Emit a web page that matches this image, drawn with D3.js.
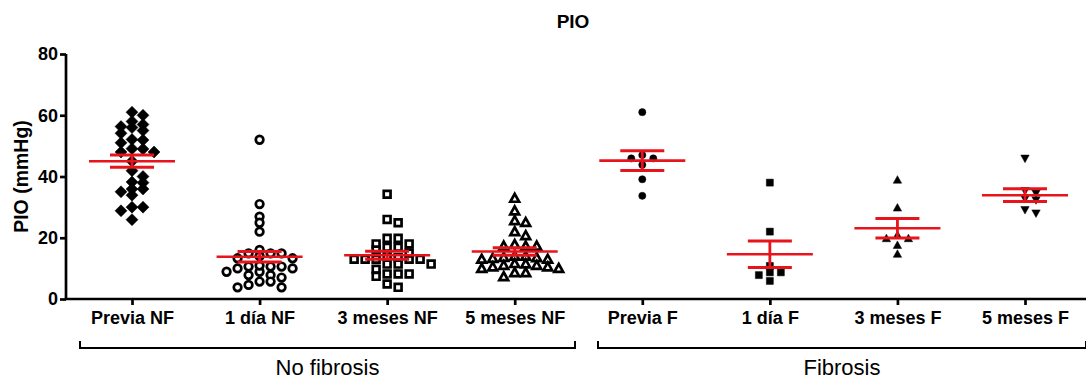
<!DOCTYPE html>
<html>
<head>
<meta charset="utf-8">
<script src="https://cdn.jsdelivr.net/npm/d3@7"></script>
<style>
  body { margin: 0; background: #fff; }
  svg { display: block; font-family: "Liberation Sans", Arial, sans-serif; }
</style>
</head>
<body>
<div id="chart"></div>
<script>
// categories and groups
const categories = ["Previa NF", "1 día NF", "3 meses NF", "5 meses NF", "Previa F", "1 día F", "3 meses F", "5 meses F"];
const groupNames = ["No fibrosis", "Fibrosis"];
const yTicks = [0, 20, 40, 60, 80];

// individual PIO values (mmHg)
const previaNF = [58, 60, 61, 56.3, 56, 57, 54.1, 55, 51.9, 52.1, 51, 49.1, 48, 48, 49, 45, 41.9, 38.2, 38, 40, 35.9, 33.9, 35, 35.9, 30, 30, 28.8, 25.9];
const dia1NF = [52, 31, 26.9, 24.9, 22, 16, 14.9, 14, 13.3, 13.3, 14.9, 14.9, 10, 8.9, 10.6, 10.6, 10.6, 10, 10.9, 7.8, 7.8, 8.9, 5.7, 4.6, 3.8, 3.8, 5.7, 7];
const meses3NF = [34.2, 26, 24.9, 19.8, 19.8, 18, 16.9, 16.9, 18, 16, 13, 13, 14, 13, 13.5, 13, 13, 11.4, 11.4, 11.4, 9.7, 8.2, 8.2, 7.4, 8.2, 3.8, 4.9, 15];
const meses5NF = [32.9, 28.8, 25, 25.6, 22, 20.7, 17.3, 17.3, 17.3, 17.8, 13.3, 10.5, 13, 14, 13.6, 13, 14, 13.5, 11, 11.6, 11, 11.5, 10, 10, 8.6, 7.3, 8.6, 10.5];
const previaF = [61, 45.9, 45.9, 47, 43.8, 39.1, 33.7];
const dia1F = [38, 22, 10.8, 8.7, 7.8, 8.7, 5.9];
const meses3F = [38.9, 29.8, 19.8, 19.8, 20.9, 17.6, 14.7];
const meses5F = [45.9, 35.3, 34.5, 32.7, 32.3, 28, 29.1];

// mean and SEM shown in red
const means = [45, 13.8, 14.3, 15.5, 45.2, 14.6, 23.1, 33.9];
const sems = [2, 1.7, 1.3, 1.2, 3.2, 4.3, 3.2, 2.1];

const series = [previaNF, dia1NF, meses3NF, meses5NF, previaF, dia1F, meses3F, meses5F];
const shapes = ["diamond", "circle", "square", "triangle", "circle", "square", "triangle", "triangleDown"];
const filled = [true, false, false, false, true, true, true, true];

const width = 1086, height = 383;
const svg = d3.select("#chart").append("svg")
  .attr("width", width)
  .attr("height", height);

const x = d3.scalePoint().domain(categories).range([132, 1025]);
const y = d3.scaleLinear().domain([0, 80]).range([299, 54]);
const axisLeft = 66;

// title
svg.append("text")
  .attr("x", 573).attr("y", 28)
  .attr("text-anchor", "middle")
  .style("font-weight", "bold").style("font-size", "19px")
  .text("PIO");

// y label
svg.append("text")
  .attr("transform", "translate(28," + y(40) + ") rotate(-90)")
  .attr("text-anchor", "middle")
  .style("font-weight", "bold").style("font-size", "19.5px")
  .text("PIO (mmHg)");

// y axis
const yAxis = svg.append("g")
  .attr("transform", "translate(" + axisLeft + ",0)")
  .call(d3.axisLeft(y).tickValues(yTicks).tickSize(6).tickPadding(2));
yAxis.select(".domain").attr("d", "M0," + y(80) + "V" + y(0)).attr("stroke-width", 2.7);
yAxis.selectAll(".tick line").attr("stroke-width", 2.7);
yAxis.selectAll(".tick text").style("font-size", "18px").style("font-weight", "bold").attr("fill", "#000");

// x axis
const xAxis = svg.append("g")
  .attr("transform", "translate(0," + y(0) + ")")
  .call(d3.axisBottom(x).tickSize(6).tickPadding(6));
xAxis.select(".domain").attr("d", "M" + (axisLeft - 1.3) + ",0H" + width).attr("stroke-width", 2.7);
xAxis.selectAll(".tick line").attr("stroke-width", 2.7);
xAxis.selectAll(".tick text").style("font-size", "18px").style("font-weight", "bold").attr("fill", "#000");

// group brackets
const brackets = [[80, 575], [598, 1086]];
brackets.forEach((b, i) => {
  svg.append("path")
    .attr("d", "M" + b[0] + ",341V348H" + b[1] + "V341")
    .attr("fill", "none").attr("stroke", "#000").attr("stroke-width", 2);
  svg.append("text")
    .attr("x", (b[0] + b[1]) / 2).attr("y", 375)
    .attr("text-anchor", "middle")
    .style("font-size", "22px")
    .text(groupNames[i]);
});

function shapePath(shape, r) {
  switch (shape) {
    case "diamond": return "M0," + (-r) + "L" + r + ",0L0," + r + "L" + (-r) + ",0Z";
    case "square": return "M" + (-r) + "," + (-r) + "H" + r + "V" + r + "H" + (-r) + "Z";
    case "triangle": return "M0," + (-r) + "L" + r + "," + (r * 0.8) + "H" + (-r) + "Z";
    case "triangleDown": return "M0," + r + "L" + r + "," + (-r * 0.8) + "H" + (-r) + "Z";
    default: return d3.arc()({ innerRadius: 0, outerRadius: r, startAngle: 0, endAngle: 2 * Math.PI });
  }
}

// spread points sideways in columns, like a column scatter plot
function swarm(values, step, minDy) {
  const order = values.map((v, i) => i).sort((a, b) => values[b] - values[a]);
  const placed = [];
  const offs = new Array(values.length);
  order.forEach(i => {
    const py = y(values[i]);
    for (let k = 0; k < 20; k++) {
      const o = (k % 2 ? 1 : -1) * Math.ceil(k / 2) * step;
      const hit = placed.some(p => Math.abs(p.o - o) < step * 0.9 && Math.abs(p.y - py) < minDy);
      if (!hit) { offs[i] = o; placed.push({ o: o, y: py }); break; }
    }
  });
  return offs;
}

const radius = { diamond: 6, circle: 3.8, square: 3.4, triangle: 4.4 };
const radiusF = { circle: 3.6, square: 3.5, triangle: 4.2, triangleDown: 4.2 };

series.forEach((vals, gi) => {
  const cx = x(categories[gi]);
  const nf = gi < 4;
  const offs = swarm(vals, 11, 6);
  const r = nf ? radius[shapes[gi]] : radiusF[shapes[gi]];
  const g = svg.append("g");
  g.selectAll("path")
    .data(vals)
    .enter()
    .append("path")
    .attr("transform", (d, i) => "translate(" + (cx + offs[i]) + "," + y(d) + ")")
    .attr("d", shapePath(shapes[gi], r))
    .attr("fill", filled[gi] ? "#000" : "#fff")
    .attr("stroke", "#000")
    .attr("stroke-width", filled[gi] ? 0.5 : 2.7)
    .attr("stroke-linejoin", "miter");

  // mean +/- SEM
  const m = means[gi], s = sems[gi];
  const red = svg.append("g").attr("stroke", "#e8141b").attr("fill", "none");
  red.append("line").attr("x1", cx - 43).attr("x2", cx + 43).attr("y1", y(m)).attr("y2", y(m)).attr("stroke-width", 2.6);
  red.append("line").attr("x1", cx).attr("x2", cx).attr("y1", y(m + s)).attr("y2", y(m - s)).attr("stroke-width", 2.8);
  red.append("line").attr("x1", cx - 22).attr("x2", cx + 22).attr("y1", y(m + s)).attr("y2", y(m + s)).attr("stroke-width", 3);
  red.append("line").attr("x1", cx - 22).attr("x2", cx + 22).attr("y1", y(m - s)).attr("y2", y(m - s)).attr("stroke-width", 3);
});
</script>
</body>
</html>
